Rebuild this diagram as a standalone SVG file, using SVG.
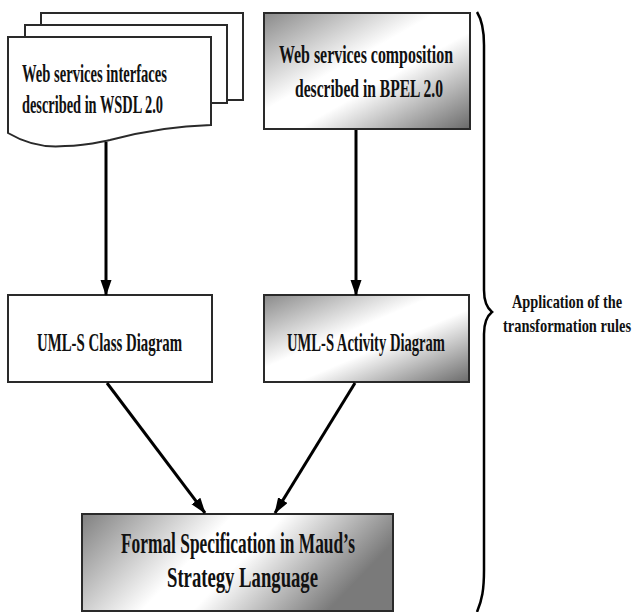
<svg xmlns="http://www.w3.org/2000/svg" width="634" height="612" viewBox="0 0 634 612">
  <style>
    .box { stroke: #2a2a2a; stroke-width: 2; }
    .plain { fill: #ffffff; }
    .shade { fill: url(#g); }
    .t { font-family: "Liberation Serif", "Times New Roman", serif; font-weight: bold; fill: #111; }
    .conn { stroke: #000; stroke-width: 3; fill: none; marker-end: url(#arr); }
  </style>
  <defs>
    <linearGradient id="g" x1="0" y1="0" x2="1" y2="1">
      <stop offset="0" stop-color="#8a8a8a"/>
      <stop offset="0.42" stop-color="#ffffff"/>
      <stop offset="0.58" stop-color="#ffffff"/>
      <stop offset="1" stop-color="#6a6a6a"/>
    </linearGradient>
    <linearGradient id="g2" x1="0" y1="0" x2="1" y2="0.3">
      <stop offset="0" stop-color="#808080"/>
      <stop offset="0.45" stop-color="#ffffff"/>
      <stop offset="0.6" stop-color="#ffffff"/>
      <stop offset="1" stop-color="#7a7a7a"/>
    </linearGradient>
    <marker id="arr" markerUnits="userSpaceOnUse" markerWidth="16" markerHeight="12" refX="15" refY="5.5" orient="auto">
      <path d="M0,0 L16,5.5 L0,11 Z" fill="#000"/>
    </marker>
  </defs>

  <g id="wsdl">
    <rect class="box plain" x="41" y="13" width="202" height="87"/>
    <rect class="box plain" x="25" y="25" width="202" height="78"/>
    <path class="box plain" d="M8,37 H211 V125 C170,126 140,132 110,140 C95,143 85,146 65,146 C45,148 25,143 8,133 Z"/>
    <text class="t" font-size="26" x="22" y="82" textLength="145" lengthAdjust="spacingAndGlyphs">Web services interfaces</text>
    <text class="t" font-size="26" x="22" y="113" textLength="141" lengthAdjust="spacingAndGlyphs">described in WSDL 2.0</text>
  </g>

  <g id="bpel">
    <rect class="box shade" x="264" y="13" width="206" height="116"/>
    <text class="t" font-size="26" x="279" y="63" textLength="174" lengthAdjust="spacingAndGlyphs">Web services composition</text>
    <text class="t" font-size="26" x="295" y="97" textLength="148" lengthAdjust="spacingAndGlyphs">described in BPEL 2.0</text>
  </g>

  <g id="class">
    <rect class="box plain" x="8" y="295" width="204" height="87"/>
    <text class="t" font-size="26" x="37" y="351" textLength="145" lengthAdjust="spacingAndGlyphs">UML-S Class Diagram</text>
  </g>

  <g id="activity">
    <rect class="box shade" x="264" y="295" width="205" height="87"/>
    <text class="t" font-size="26" x="287" y="351" textLength="158" lengthAdjust="spacingAndGlyphs">UML-S Activity Diagram</text>
  </g>

  <g id="formal">
    <rect x="82" y="514" width="311" height="97" class="box" fill="url(#g2)"/>
    <text class="t" font-size="30" x="121" y="553" textLength="234" lengthAdjust="spacingAndGlyphs">Formal Specification in Maud’s</text>
    <text class="t" font-size="30" x="167" y="587" textLength="151" lengthAdjust="spacingAndGlyphs">Strategy Language</text>
  </g>

  <g id="brace">
    <path d="M477,12 C482,20 484,30 484,45 V290 C484,302 487,308 492,312 C487,316 484,322 484,334 V570 C484,590 482,600 477,612" fill="none" stroke="#000" stroke-width="2.5"/>
    <text class="t" font-size="19" transform="translate(512,308) scale(0.75,1)" x="0" y="0" textLength="146.7" lengthAdjust="spacingAndGlyphs">Application of the</text>
    <text class="t" font-size="19" transform="translate(503,332) scale(0.75,1)" x="0" y="0" textLength="170.7" lengthAdjust="spacingAndGlyphs">transformation rules</text>
  </g>

  <g id="connectors">
    <line class="conn" x1="106" y1="142" x2="106" y2="295"/>
    <line class="conn" x1="356" y1="130" x2="356" y2="295"/>
    <line class="conn" x1="107" y1="383" x2="205" y2="513"/>
    <line class="conn" x1="355" y1="383" x2="275" y2="513"/>
  </g>
</svg>
